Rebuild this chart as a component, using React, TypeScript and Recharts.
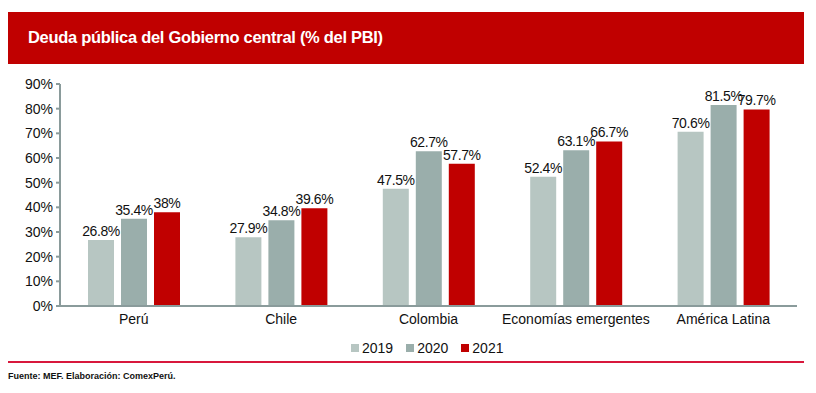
import { BarChart, Bar, XAxis, YAxis, LabelList } from "recharts"

const categories = ["Perú", "Chile", "Colombia", "Economías emergentes", "América Latina"]
const y2019 = [26.8, 27.9, 47.5, 52.4, 70.6]
const y2020 = [35.4, 34.8, 62.7, 63.1, 81.5]
const y2021 = [38, 39.6, 57.7, 66.7, 79.7]
const yTicks = [0, 10, 20, 30, 40, 50, 60, 70, 80, 90]

const series = [
  { key: "a2019", name: "2019", color: "#b7c6c2" },
  { key: "a2020", name: "2020", color: "#9aaeab" },
  { key: "a2021", name: "2021", color: "#c00000" },
]

const data = categories.map((c, i) => ({ name: c, a2019: y2019[i], a2020: y2020[i], a2021: y2021[i] }))

const font = "Arial, 'Liberation Sans', sans-serif"
const axisColor = "#8a9b9b"

export default function App() {
  const pct = (v: any) => v + "%"

  return (
    <div style={{ position: "absolute", left: 0, top: 0, width: 816, height: 393, background: "#fff", fontFamily: font }}>
      <div style={{ position: "absolute", left: 8, top: 12, width: 796, height: 52, background: "#c00000" }}>
        <div style={{ position: "absolute", left: 20, top: 16, color: "#fff", fontWeight: "bold", fontSize: 16.5, letterSpacing: -0.3 }}>
          Deuda pública del Gobierno central (% del PBI)
        </div>
      </div>

      <div style={{ position: "absolute", left: 0, top: 0 }}>
        <BarChart width={816} height={393} data={data}
          margin={{ top: 84, right: 19, left: 0, bottom: 57 }}
          barGap={7} barSize={26}>
          <XAxis dataKey="name" stroke={axisColor} strokeWidth={2} tickLine={false} tickSize={4} tickMargin={4}
            tick={{ fill: "#111", fontSize: 14, fontFamily: font }} />
          <YAxis width={60} domain={[0, 90]} ticks={yTicks} tickFormatter={pct} stroke={axisColor} strokeWidth={2}
            tickSize={4} tickMargin={3} interval={0}
            tick={{ fill: "#111", fontSize: 14, fontFamily: font }} />
          {series.map((s) => (
            <Bar key={s.key} dataKey={s.key} name={s.name} fill={s.color} isAnimationActive={false}>
              <LabelList dataKey={s.key} position="top" formatter={pct} fill="#111" fontSize={14}
                fontFamily={font} letterSpacing={-0.4} offset={4} />
            </Bar>
          ))}
        </BarChart>
      </div>

      <div style={{ position: "absolute", left: 351, top: 340, display: "flex", fontSize: 14, color: "#111" }}>
        {series.map((s) => (
          <div key={s.key} style={{ display: "flex", alignItems: "center", marginRight: 13 }}>
            <div style={{ width: 8, height: 8, background: s.color, marginRight: 3 }} />
            <span>{s.name}</span>
          </div>
        ))}
      </div>

      <div style={{ position: "absolute", left: 8, top: 361, width: 796, height: 2, background: "#d8183c" }} />
      <div style={{ position: "absolute", left: 8, top: 371, fontSize: 9, fontWeight: "bold", color: "#111" }}>
        Fuente: MEF. Elaboración: ComexPerú.
      </div>
    </div>
  )
}
